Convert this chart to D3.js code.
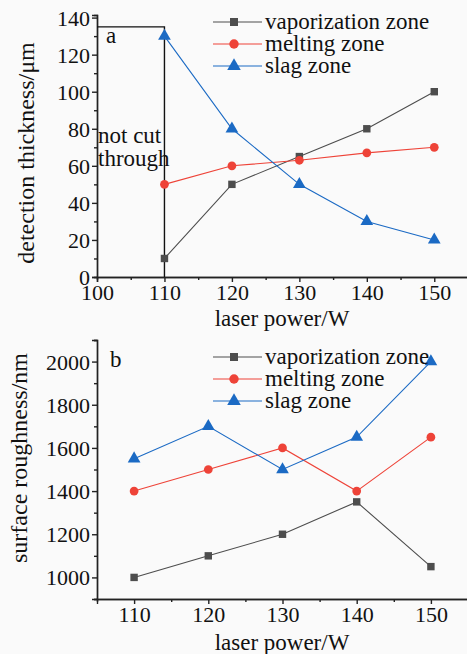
<!DOCTYPE html>
<html>
<head>
<meta charset="utf-8">
<script src="https://cdn.jsdelivr.net/npm/d3@7"></script>
<style>
  body { margin: 0; background: #fafafa; }
  svg { display: block; font-family: "Liberation Serif", "DejaVu Serif", serif; }
</style>
</head>
<body>
<svg id="chart" width="467" height="654"></svg>
<script>
// data
const power = [110, 120, 130, 140, 150];
const seriesNames = ["vaporization zone", "melting zone", "slag zone"];

const thickVapor = [10, 50, 65, 80, 100];
const thickMelt = [50, 60, 63, 67, 70];
const thickSlag = [130, 80, 50, 30, 20];

const roughVapor = [1000, 1100, 1200, 1350, 1050];
const roughMelt = [1400, 1500, 1600, 1400, 1650];
const roughSlag = [1550, 1700, 1500, 1650, 2000];

const ticksA_x = [100, 110, 120, 130, 140, 150];
const ticksA_y = [0, 20, 40, 60, 80, 100, 120, 140];
const ticksB_x = [110, 120, 130, 140, 150];
const ticksB_y = [1000, 1200, 1400, 1600, 1800, 2000];

const colors = ["#4d4d4d", "#ee4338", "#1b6ac4"];
const shapes = [d3.symbolSquare, d3.symbolCircle, d3.symbolTriangle];
const sizes = [55, 60, 70];
const serif = "Liberation Serif, DejaVu Serif, serif";

const svg = d3.select("#chart");

function drawPanel(opt) {
    const g = svg.append("g");
    const x = opt.x, y = opt.y;

    // axes, major ticks + minor ticks
    const xAxis = d3.axisBottom(x).tickValues(opt.xTicks).tickSize(5).tickPadding(2).tickFormat(d3.format("d"));
    const yAxis = d3.axisLeft(y).tickValues(opt.yTicks).tickSize(5).tickPadding(2).tickFormat(d3.format("d"));
    const xMinor = d3.axisBottom(x).tickValues(opt.xMinor).tickSize(3).tickFormat("");
    const yMinor = d3.axisLeft(y).tickValues(opt.yMinor).tickSize(3).tickFormat("");

    const y0 = y.range()[0];
    const x0 = x.range()[0];

    [xMinor, xAxis].forEach(a => {
        g.append("g").attr("transform", `translate(0,${y0})`).call(a)
            .call(s => s.selectAll("path,line").attr("stroke", "#222").attr("stroke-width", 1.4))
            .call(s => s.selectAll("text").attr("font-family", serif).attr("font-size", 22).attr("fill", "#111"));
    });
    [yMinor, yAxis].forEach(a => {
        g.append("g").attr("transform", `translate(${x0},0)`).call(a)
            .call(s => s.selectAll("path,line").attr("stroke", "#222").attr("stroke-width", 1.4))
            .call(s => s.selectAll("text").attr("font-family", serif).attr("font-size", 22).attr("fill", "#111").attr("dy", "0.34em"));
    });

    // axis titles
    g.append("text")
        .attr("x", opt.xTitlePos[0]).attr("y", opt.xTitlePos[1])
        .attr("text-anchor", "middle").attr("font-size", 23).attr("fill", "#111")
        .text("laser power/W");
    g.append("text")
        .attr("transform", `translate(${opt.yTitlePos[0]},${opt.yTitlePos[1]}) rotate(-90)`)
        .attr("text-anchor", "middle").attr("font-size", 24).attr("fill", "#111")
        .text(opt.yTitle);

    // panel letter
    g.append("text")
        .attr("x", opt.letterPos[0]).attr("y", opt.letterPos[1])
        .attr("font-size", 23).attr("fill", "#111")
        .text(opt.letter);

    if (opt.extra) opt.extra(g);

    // series
    const line = d3.line().x((d, i) => x(power[i])).y(d => y(d));
    opt.series.forEach((vals, k) => {
        g.append("path")
            .attr("d", line(vals))
            .attr("fill", "none")
            .attr("stroke", colors[k])
            .attr("stroke-width", 1.1);
        g.selectAll(null)
            .data(vals)
            .enter().append("path")
            .attr("transform", (d, i) => `translate(${x(power[i])},${y(d)})`)
            .attr("d", d3.symbol().type(shapes[k]).size(sizes[k]))
            .attr("fill", colors[k]);
    });

    // legend
    const lg = g.append("g").attr("transform", `translate(${opt.legendPos[0]},${opt.legendPos[1]})`);
    seriesNames.forEach((name, k) => {
        const row = lg.append("g").attr("transform", `translate(0,${k * 22})`);
        row.append("line").attr("x1", 0).attr("x2", 49).attr("y1", 0).attr("y2", 0)
            .attr("stroke", colors[k]).attr("stroke-width", 1.1);
        row.append("path").attr("transform", "translate(21,0)")
            .attr("d", d3.symbol().type(shapes[k]).size(sizes[k] + 10))
            .attr("fill", colors[k]);
        row.append("text").attr("x", 52).attr("y", 0).attr("dy", "0.3em")
            .attr("font-size", 23).attr("fill", "#111").text(name);
    });
}

// panel a
const xA = d3.scaleLinear().domain([100, 155]).range([97, 468]);
const yA = d3.scaleLinear().domain([0, 141.4]).range([277, 15]);
drawPanel({
    x: xA, y: yA,
    xTicks: ticksA_x, yTicks: ticksA_y,
    xMinor: [105, 115, 125, 135, 145], yMinor: [10, 30, 50, 70, 90, 110, 130],
    series: [thickVapor, thickMelt, thickSlag],
    yTitle: "detection thickness/μm",
    xTitlePos: [282, 326], yTitlePos: [34, 153],
    letter: "a", letterPos: [106, 43],
    legendPos: [213, 22],
    extra: g => {
        // "not cut through" bracket
        g.append("path")
            .attr("d", `M${xA(100)},${yA(135)}H${xA(110)}V${yA(0)}`)
            .attr("fill", "none").attr("stroke", "#111").attr("stroke-width", 1.4);
        const t = g.append("text").attr("font-size", 23).attr("fill", "#111");
        t.append("tspan").attr("x", 98).attr("y", 143).text("not cut");
        t.append("tspan").attr("x", 98).attr("y", 166).text("through");
    }
});

// panel b
const xB = d3.scaleLinear().domain([105, 155]).range([97, 468]);
const yB = d3.scaleLinear().domain([900, 2100]).range([599, 340]);
drawPanel({
    x: xB, y: yB,
    xTicks: ticksB_x, yTicks: ticksB_y,
    xMinor: [115, 125, 135, 145], yMinor: [900, 1100, 1300, 1500, 1700, 1900, 2100],
    series: [roughVapor, roughMelt, roughSlag],
    yTitle: "surface roughness/nm",
    xTitlePos: [282, 650], yTitlePos: [27, 458],
    letter: "b", letterPos: [110, 367],
    legendPos: [213, 357]
});
</script>
</body>
</html>
